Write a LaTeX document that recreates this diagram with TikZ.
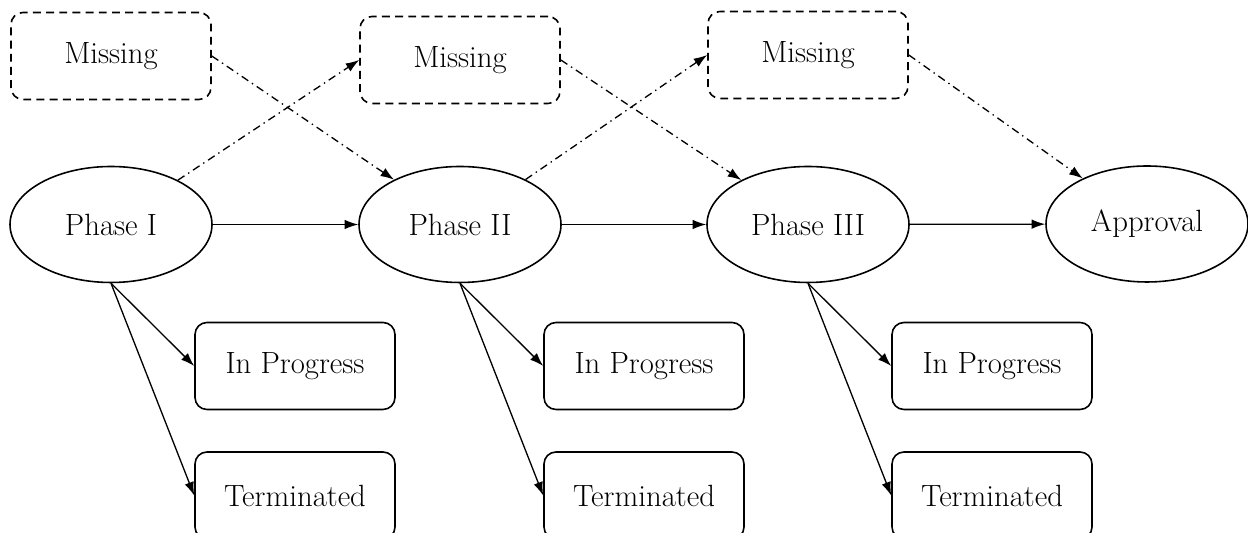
\documentclass[tikz,border=0pt]{standalone}
\usetikzlibrary{shapes.geometric,arrows.meta}
\tikzset{
	phase/.style={ellipse,draw,line width=0.9pt,minimum width=4.04cm,minimum height=2.32cm,inner sep=0pt},
	state/.style={rectangle,draw,rounded corners=0.24cm,line width=0.9pt,minimum width=4cm,minimum height=1.74cm,inner sep=0pt},
	missing/.style={state,dash pattern=on 4.5pt off 3pt},
	flow/.style={line width=0.75pt,-{Latex[length=2.7mm,width=1.9mm]}},
	missflow/.style={flow,dash pattern=on 4.5pt off 2.5pt on 0.8pt off 2.5pt}
}
\begin{document}
\begin{tikzpicture}[font=\fontsize{17.5}{20}\selectfont]
	\useasboundingbox (0,0) rectangle (24.96,10.66);
	\foreach \n/\x/\my/\t in {1/2.22/9.54/I,2/9.20/9.46/II,3/16.16/9.56/III} {
		\node[phase] (p\n) at (\x,6.17) {Phase \t};
		\node[missing] (m\n) at (\x,\my) {Missing};
		\node[state] (ip\n) at (\x+3.68,3.34) {In Progress};
		\node[state] (t\n) at (\x+3.68,0.75) {Terminated};
		\draw[flow] (p\n.south)--(ip\n.west);
		\draw[flow] (p\n.south)--(t\n.west);
	}
	\node[phase] (a) at (22.94,6.18) {Approval};
	\draw[flow] (p1)--(p2);
	\draw[flow] (p2)--(p3);
	\draw[flow] (p3)--(a);
	% missing data paths
	\draw[missflow] (p1)--(m2.west);
	\draw[missflow] (p2)--(m3.west);
	\draw[missflow] (m1.east)--(p2);
	\draw[missflow] (m2.east)--(p3);
	\draw[missflow] (m3.east)--(a);
\end{tikzpicture}
\end{document}
